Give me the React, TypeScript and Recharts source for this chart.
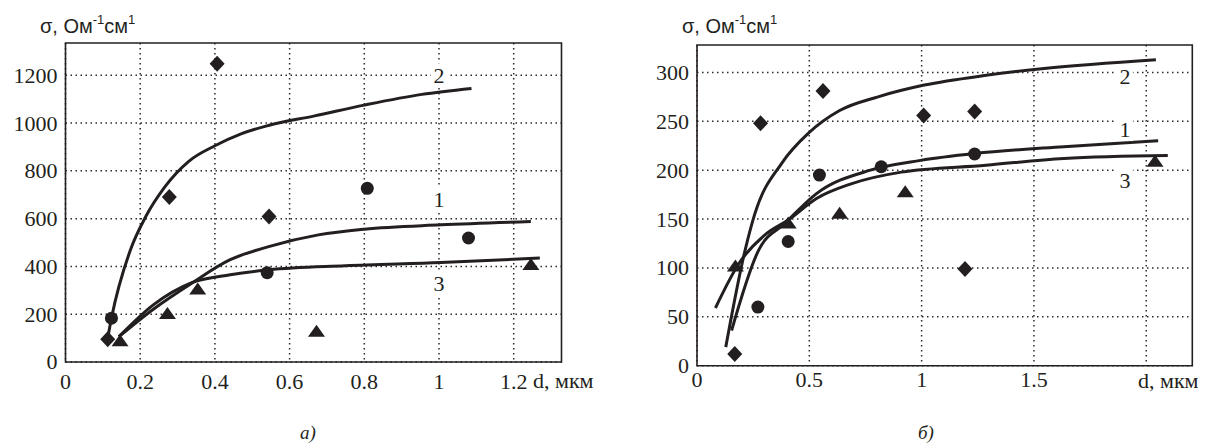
import React from "react";
import {
  ComposedChart,
  Line,
  Scatter,
  XAxis,
  YAxis,
  CartesianGrid,
  ReferenceArea,
} from "recharts";

const INK = "#231f20";
const GRID_COLOR = "#2a2a2a";
const SERIF = "Liberation Serif, Times New Roman, serif";
const SANS = "Liberation Sans, Arial, sans-serif";

type Pair = [number, number];

// ----- chart а) -----
const A_X_TICKS = [0, 0.2, 0.4, 0.6, 0.8, 1, 1.2];
const A_Y_TICKS = [0, 200, 400, 600, 800, 1000, 1200];
const A_X_MAX = 1.328;
const A_Y_MAX = 1335;

const A_DIAMONDS: Pair[] = [[0.113, 95], [0.278, 690], [0.406, 1248], [0.545, 609]];
const A_CIRCLES: Pair[] = [[0.123, 183], [0.54, 374], [0.808, 727], [1.079, 519]];
const A_TRIANGLES: Pair[] = [[0.146, 89], [0.273, 203], [0.354, 305], [0.672, 129], [1.246, 408]];

const A_CURVE_1: Pair[] = [
  [0.143, 106], [0.236, 222], [0.338, 330], [0.441, 428], [0.544, 483],
  [0.677, 532], [0.8, 556], [1.005, 574], [1.246, 588],
];
const A_CURVE_2: Pair[] = [
  [0.113, 100], [0.123, 183], [0.174, 470], [0.215, 609], [0.267, 735],
  [0.33, 840], [0.4, 905], [0.47, 955], [0.543, 990], [0.667, 1030],
  [0.8, 1075], [0.954, 1120], [1.087, 1145],
];
const A_CURVE_3: Pair[] = [
  [0.143, 106], [0.236, 240], [0.338, 332], [0.441, 365], [0.544, 386],
  [0.749, 403], [1.005, 416], [1.27, 435],
];
const A_LABELS = [
  { x: 1, y: 1200, t: "2" },
  { x: 1, y: 679, t: "1" },
  { x: 1, y: 330, t: "3" },
];

// ----- chart б) -----
const B_X_TICKS = [0, 0.5, 1, 1.5, 2];
const B_Y_TICKS = [0, 50, 100, 150, 200, 250, 300];
const B_X_MAX = 2.205;
const B_Y_MAX = 328;

const B_DIAMONDS: Pair[] = [[0.168, 12], [0.283, 248], [0.561, 281], [1.009, 256], [1.193, 99], [1.236, 260]];
const B_CIRCLES: Pair[] = [[0.271, 60], [0.406, 127], [0.545, 195], [0.82, 203.5], [1.236, 216.5]];
const B_TRIANGLES: Pair[] = [[0.171, 102], [0.406, 146], [0.635, 156], [0.927, 178], [2.039, 209]];

const B_CURVE_1: Pair[] = [
  [0.154, 36], [0.274, 118], [0.394, 146], [0.532, 176], [0.772, 200],
  [0.995, 210], [1.236, 217], [1.633, 224], [2.053, 230],
];
const B_CURVE_2: Pair[] = [
  [0.128, 19], [0.214, 118], [0.257, 155], [0.377, 207], [0.497, 238],
  [0.635, 261], [0.806, 275], [1.012, 287], [1.287, 297], [1.545, 304],
  [2.043, 313],
];
const B_CURVE_3: Pair[] = [
  [0.082, 59], [0.188, 105], [0.309, 135], [0.406, 149], [0.532, 171],
  [0.686, 186], [0.91, 198], [1.287, 205], [1.633, 212], [2.096, 215],
];
const B_LABELS = [
  { x: 1.905, y: 296, t: "2" },
  { x: 1.905, y: 242, t: "1" },
  { x: 1.905, y: 190, t: "3" },
];

const toPts = (arr: Pair[]) => arr.map(([x, y]) => ({ x, y }));

const serifText = { fontFamily: SERIF, fontSize: 22 };

// marker shapes
const Diamond = (p: any) => (
  <polygon
    points={`${p.cx},${p.cy - 8} ${p.cx + 7.5},${p.cy} ${p.cx},${p.cy + 8} ${p.cx - 7.5},${p.cy}`}
    fill={INK}
  />
);
const Dot = (p: any) => <circle cx={p.cx} cy={p.cy} r={6.5} fill={INK} />;
const Tri = (p: any) => (
  <polygon
    points={`${p.cx},${p.cy - 6.5} ${p.cx + 8.5},${p.cy + 5.5} ${p.cx - 8.5},${p.cy + 5.5}`}
    fill={INK}
  />
);
const CurveLabel = (p: any) => (
  <g>
    <rect x={p.cx - 8} y={p.cy - 12} width={16} height={24} fill="#fff" />
    <text x={p.cx} y={p.cy} dy="0.35em" textAnchor="middle" style={serifText} fill={INK}>
      {p.payload.t}
    </text>
  </g>
);

const makeXTick = (fmt: (v: number) => string) => (p: any) => (
  <text x={p.x} y={p.y} dy="0.71em" textAnchor="middle" style={serifText} fill={INK}>
    {fmt(p.payload.value)}
  </text>
);
const YTick = (p: any) => (
  <text x={p.x} y={p.y} dy="0.34em" textAnchor="end" style={serifText} fill={INK}>
    {String(p.payload.value)}
  </text>
);

type PanelProps = {
  left: number;
  width: number;
  margin: { top: number; right: number; bottom: number; left: number };
  xMax: number;
  yMax: number;
  xTicks: number[];
  yTicks: number[];
  xFmt: (v: number) => string;
  xTickSize: number;
  xTickMargin: number;
  curves: Pair[][];
  diamonds: Pair[];
  circles: Pair[];
  triangles: Pair[];
  labels: { x: number; y: number; t: string }[];
};

function Panel(props: PanelProps) {
  const { xMax, yMax } = props;
  return (
    <div style={{ position: "absolute", left: props.left, top: 0 }}>
      <ComposedChart width={props.width} height={443} margin={props.margin}>
        <CartesianGrid
          stroke={GRID_COLOR}
          strokeWidth={1.5}
          strokeDasharray="1.5 3.5"
          horizontalValues={props.yTicks}
          verticalValues={props.xTicks}
        />
        <XAxis
          type="number"
          dataKey="x"
          domain={[0, xMax]}
          ticks={props.xTicks}
          interval={0}
          allowDataOverflow
          tickLine={false}
          axisLine={false}
          tickSize={props.xTickSize}
          tickMargin={props.xTickMargin}
          tick={makeXTick(props.xFmt)}
          height={40}
        />
        <YAxis
          type="number"
          dataKey="y"
          domain={[0, yMax]}
          ticks={props.yTicks}
          interval={0}
          allowDataOverflow
          tickLine={false}
          axisLine={false}
          tick={YTick}
          width={60}
        />
        <ReferenceArea
          x1={0}
          x2={xMax}
          y1={0}
          y2={yMax}
          fill="none"
          fillOpacity={0}
          stroke={INK}
          strokeWidth={1.6}
        />
        <Scatter data={props.labels} shape={CurveLabel} isAnimationActive={false} />
        {props.curves.map((c, i) => (
          <Line
            key={i}
            data={toPts(c)}
            dataKey="y"
            type="monotone"
            stroke={INK}
            strokeWidth={3}
            dot={false}
            activeDot={false}
            isAnimationActive={false}
          />
        ))}
        <Scatter data={toPts(props.diamonds)} shape={Diamond} isAnimationActive={false} />
        <Scatter data={toPts(props.circles)} shape={Dot} isAnimationActive={false} />
        <Scatter data={toPts(props.triangles)} shape={Tri} isAnimationActive={false} />
      </ComposedChart>
    </div>
  );
}

function Title({ x }: { x: number }) {
  return (
    <text x={x} y={33} style={{ fontFamily: SANS, fontSize: 20 }} fill={INK}>
      σ, Ом
      <tspan dy={-9} style={{ fontSize: 13 }}>-1</tspan>
      <tspan dy={9}>см</tspan>
      <tspan dy={-9} style={{ fontSize: 13 }}>1</tspan>
    </text>
  );
}

export default function App() {
  return (
    <div style={{ position: "absolute", left: 0, top: 0, width: 1205, height: 443, background: "#fff", fontFamily: SERIF }}>
      <Panel
        left={0}
        width={600}
        margin={{ top: 43, right: 38.5, bottom: 41, left: 5.5 }}
        xMax={A_X_MAX}
        yMax={A_Y_MAX}
        xTicks={A_X_TICKS}
        yTicks={A_Y_TICKS}
        xFmt={(v) => String(v)}
        xTickSize={6}
        xTickMargin={5}
        curves={[A_CURVE_1, A_CURVE_2, A_CURVE_3]}
        diamonds={A_DIAMONDS}
        circles={A_CIRCLES}
        triangles={A_TRIANGLES}
        labels={A_LABELS}
      />
      <Panel
        left={600}
        width={605}
        margin={{ top: 45, right: 12.7, bottom: 37.3, left: 37 }}
        xMax={B_X_MAX}
        yMax={B_Y_MAX}
        xTicks={B_X_TICKS}
        yTicks={B_Y_TICKS}
        xFmt={(v) => (v === 2 ? "" : String(v))}
        xTickSize={4}
        xTickMargin={2}
        curves={[B_CURVE_1, B_CURVE_2, B_CURVE_3]}
        diamonds={B_DIAMONDS}
        circles={B_CIRCLES}
        triangles={B_TRIANGLES}
        labels={B_LABELS}
      />
      <svg
        width={1205}
        height={443}
        style={{ position: "absolute", left: 0, top: 0, pointerEvents: "none" }}
      >
        <Title x={40} />
        <Title x={682} />
        <text x={533} y={388} style={serifText} fill={INK}>d, мкм</text>
        <text x={1138} y={388} style={serifText} fill={INK}>d, мкм</text>
        <text x={308} y={439} textAnchor="middle" style={{ fontFamily: SERIF, fontSize: 19, fontStyle: "italic" }} fill={INK}>а)</text>
        <text x={926} y={439} textAnchor="middle" style={{ fontFamily: SERIF, fontSize: 19, fontStyle: "italic" }} fill={INK}>б)</text>
      </svg>
    </div>
  );
}
